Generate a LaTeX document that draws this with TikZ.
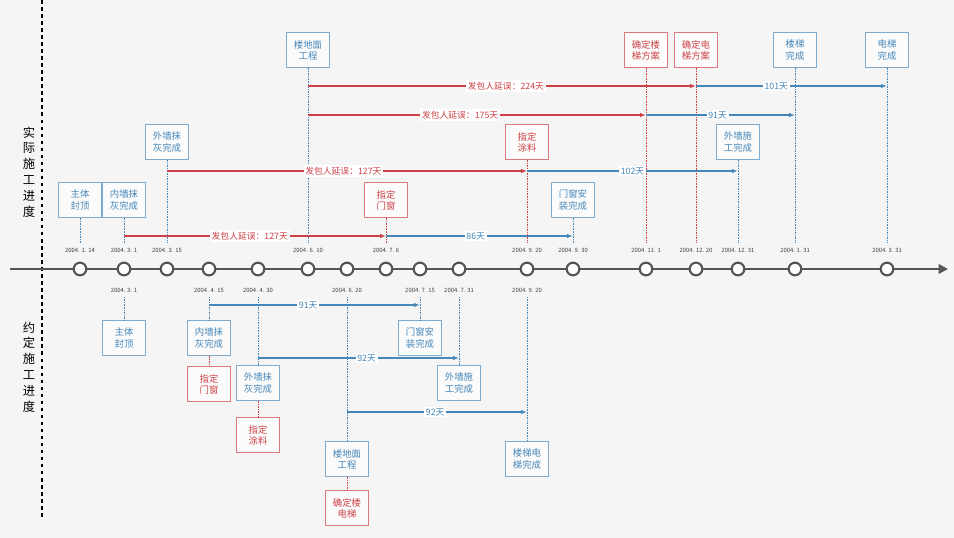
\documentclass[tikz,border=0pt]{standalone}
\usepackage{fontspec}
\newfontfamily\cjk{Noto Sans CJK SC}
\usetikzlibrary{positioning, calc, arrows.meta}
\definecolor{bluebox}{RGB}{70,135,185}
\definecolor{redbox}{RGB}{205,65,70}
\definecolor{axisgray}{RGB}{85,85,85}

\begin{document}
\begin{tikzpicture}[
    x=0.03cm, y=-0.03cm,
    bbox/.style={rectangle, draw=bluebox!70, fill=white!60!gray!8, text=bluebox, minimum width=1.3cm, minimum height=1.05cm, align=center, font=\cjk\fontsize{8}{9.5}\selectfont, inner sep=1pt},
    rbox/.style={bbox, draw=redbox!70, text=redbox},
    datel/.style={font=\cjk\fontsize{5}{6}\selectfont, text=black!75},
    milestone/.style={circle, draw=axisgray, line width=1.8pt, fill=white, minimum size=0.38cm, inner sep=0pt},
    bline/.style={bluebox, densely dotted, thin},
    rline/.style={redbox, densely dotted, thin},
    barr/.style={bluebox, line width=1.2pt, -{Latex[length=5pt]}},
    rarr/.style={redbox, line width=1.2pt, -{Latex[length=5pt]}},
    lbl/.style={fill=white, inner sep=1.5pt, font=\cjk\fontsize{7.5}{8}\selectfont}
]
    % Background
    \fill[gray!8] (0,0) rectangle (954,538);
    \useasboundingbox (0,0) rectangle (954,538);

    % Divider and side labels
    \draw[black, dashed, line width=1pt] (42,0) -- (42,520);
    \node[font=\cjk\fontsize{10.5}{13.5}\selectfont, align=center] (actual) at (29,172) {实\\际\\施\\工\\进\\度};
    \node[font=\cjk\fontsize{10.5}{13.5}\selectfont, align=center] (planned) at (29,367) {约\\定\\施\\工\\进\\度};

    % Time axis
    \coordinate (axs) at (10,269);
    \coordinate (axe) at (948,269);
    \draw[axisgray, line width=2.4pt, -{Triangle[length=8pt, width=8pt]}] (axs) -- (axe);
    \foreach \n/\x in {0114/80, 0301/124, 0315/167, 0415/209, 0430/258, 0610/308, 0620/347,
                       0706/386, 0715/420, 0731/459, 0920/527, 0930/573, 1101/646, 1220/696,
                       1231/738, 0131/795, 0331/887}
        \node[milestone] (c\n) at (\x,269) {};

    % Dates above
    \foreach \n/\t in {0114/2004. 1. 14, 0301/2004. 3. 1, 0315/2004. 3. 15, 0610/2004. 6. 10, 0706/2004. 7. 6,
                       0920/2004. 9. 20, 0930/2004. 9. 30, 1101/2004. 11. 1, 1220/2004. 12. 20,
                       1231/2004. 12. 31, 0131/2004. 1. 31, 0331/2004. 3. 31}
        \node[datel] (t\n) at ($(c\n)+(0,-19)$) {\t};
    % Dates below
    \foreach \n/\t in {0301/2004. 3. 1, 0415/2004. 4. 15, 0430/2004. 4. 30, 0620/2004. 6. 20,
                       0715/2004. 7. 15, 0731/2004. 7. 31, 0920/2004. 9. 20}
        \node[datel] (b\n) at ($(c\n)+(0,21)$) {\t};

    % Actual progress boxes
    \node[bbox] (a1) at (80,200) {主体\\封顶};
    \node[bbox] (a2) at (124,200) {内墙抹\\灰完成};
    \node[bbox] (a3) at (167,142) {外墙抹\\灰完成};
    \node[bbox] (a4) at (308,50) {楼地面\\工程};
    \node[rbox] (a5) at (386,200) {指定\\门窗};
    \node[rbox] (a6) at (527,142) {指定\\涂料};
    \node[bbox] (a7) at (573,200) {门窗安\\装完成};
    \node[rbox] (a8) at (646,50) {确定楼\\梯方案};
    \node[rbox] (a9) at (696,50) {确定电\\梯方案};
    \node[bbox] (a10) at (738,142) {外墙施\\工完成};
    \node[bbox] (a11) at (795,50) {楼梯\\完成};
    \node[bbox] (a12) at (887,50) {电梯\\完成};

    % Dotted leaders (top)
    \coordinate (top) at (0,243);
    \foreach \b/\s in {a1/bline, a2/bline, a3/bline, a4/bline, a5/rline, a6/rline, a7/bline,
                       a8/rline, a9/rline, a10/bline, a11/bline, a12/bline}
        \draw[\s] (\b.south) -- (\b.south |- top);

    % Arrow rows (top)
    \coordinate (r1) at (0,236);
    \coordinate (r2) at (0,171);
    \coordinate (r3) at (0,115);
    \coordinate (r4) at (0,86);
    \draw[rarr] (a2 |- r1) -- (a5 |- r1) node[lbl, text=redbox, pos=0.48] {发包人延误：127天};
    \draw[barr] (a5 |- r1) -- (a7 |- r1) node[lbl, text=bluebox, pos=0.48] {86天};
    \draw[rarr] (a3 |- r2) -- (a6 |- r2) node[lbl, text=redbox, pos=0.49] {发包人延误：127天};
    \draw[barr] (a6 |- r2) -- (a10 |- r2) node[lbl, text=bluebox, pos=0.5] {102天};
    \draw[rarr] (a4 |- r3) -- (a8 |- r3) node[lbl, text=redbox, pos=0.45] {发包人延误：175天};
    \draw[barr] (a8 |- r3) -- (a11 |- r3) node[lbl, text=bluebox, pos=0.48] {91天};
    \draw[rarr] (a4 |- r4) -- (a9 |- r4) node[lbl, text=redbox, pos=0.51] {发包人延误：224天};
    \draw[barr] (a9 |- r4) -- (a12 |- r4) node[lbl, text=bluebox, pos=0.42] {101天};

    % Planned progress boxes
    \node[bbox] (p1) at (124,338) {主体\\封顶};
    \node[bbox] (p2) at (209,338) {内墙抹\\灰完成};
    \node[rbox] (p3) at (209,384) {指定\\门窗};
    \node[bbox] (p4) at (258,383) {外墙抹\\灰完成};
    \node[rbox] (p5) at (258,435) {指定\\涂料};
    \node[bbox] (p6) at (347,459) {楼地面\\工程};
    \node[rbox] (p7) at (347,508) {确定楼\\电梯};
    \node[bbox] (p8) at (420,338) {门窗安\\装完成};
    \node[bbox] (p9) at (459,383) {外墙施\\工完成};
    \node[bbox] (p10) at (527,459) {楼梯电\\梯完成};

    % Dotted leaders (bottom)
    \coordinate (bot) at (0,297);
    \foreach \b in {p1, p2, p4, p6, p8, p9, p10}
        \draw[bline] (\b.north |- bot) -- (\b.north);
    \draw[rline] (p2) -- (p3);
    \draw[rline] (p4) -- (p5);
    \draw[rline] (p6) -- (p7);

    % Arrow rows (bottom)
    \coordinate (s1) at (0,305);
    \coordinate (s2) at (0,358);
    \coordinate (s3) at (0,412);
    \draw[barr] (p2 |- s1) -- (p8 |- s1) node[lbl, text=bluebox, pos=0.47] {91天};
    \draw[barr] (p4 |- s2) -- (p9 |- s2) node[lbl, text=bluebox, pos=0.54] {92天};
    \draw[barr] (p6 |- s3) -- (p10 |- s3) node[lbl, text=bluebox, pos=0.49] {92天};
\end{tikzpicture}
\end{document}
